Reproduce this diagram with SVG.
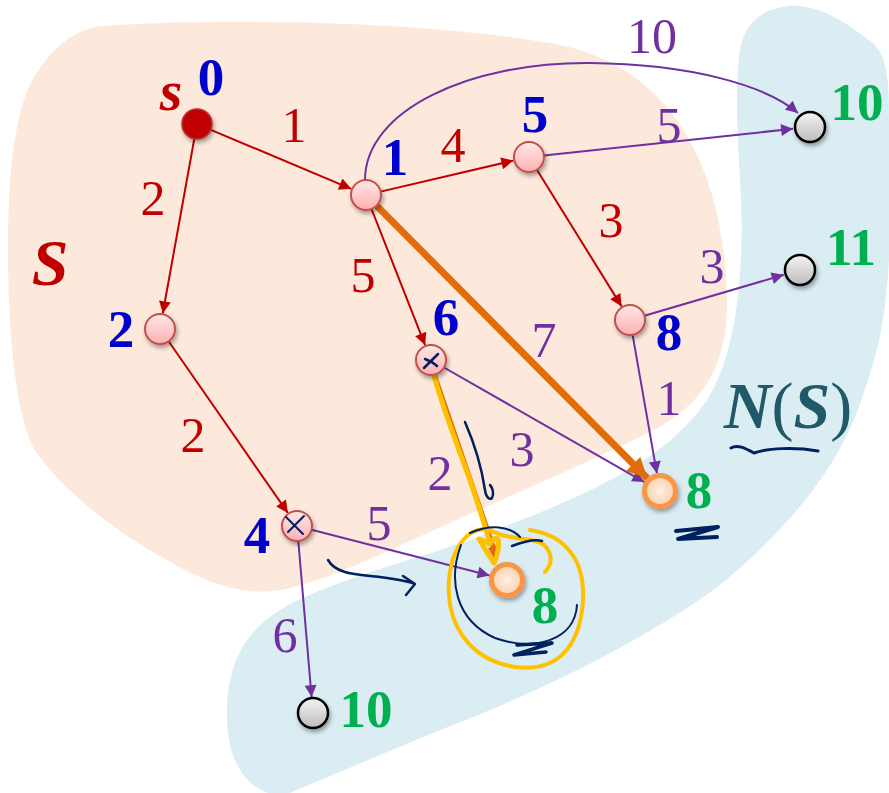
<svg xmlns="http://www.w3.org/2000/svg" width="889" height="793" viewBox="0 0 889 793">
<defs>
<style>
.t{font-family:"Liberation Serif","DejaVu Serif",serif;font-size:50px;text-anchor:middle}
.b{font-weight:bold;font-size:53px}
.blue{fill:#0000cc}
.green{fill:#00b050}
.red{fill:#c00000}
.pur{fill:#7030a0}
.er{stroke:#c00000;stroke-width:2;fill:none}
.ep{stroke:#7030a0;stroke-width:2;fill:none}
.hand{stroke:#002060;fill:none;stroke-linecap:round;stroke-linejoin:round}
.pink{fill:url(#gPink);stroke:#c0504d;stroke-width:2}
.gray{fill:url(#gGray);stroke:#000;stroke-width:2.5}
.org{fill:url(#gOrg);stroke:#f79646;stroke-width:5}
</style>
<linearGradient id="gPink" x1="0" y1="0" x2="0" y2="1"><stop offset="0" stop-color="#ffe8e8"/><stop offset="1" stop-color="#ffb0b0"/></linearGradient>
<linearGradient id="gGray" x1="0" y1="0" x2="0" y2="1"><stop offset="0" stop-color="#f4f4f4"/><stop offset="1" stop-color="#bcbcbc"/></linearGradient>
<radialGradient id="gOrg"><stop offset="0" stop-color="#fff0e4"/><stop offset="1" stop-color="#fbd0ac"/></radialGradient>
<filter id="sh" x="-50%" y="-50%" width="200%" height="200%"><feDropShadow dx="1.5" dy="3" stdDeviation="2" flood-color="#000" flood-opacity="0.35"/></filter>
<marker id="aR" viewBox="0 0 10 10" refX="10" refY="5" markerWidth="16" markerHeight="12" markerUnits="userSpaceOnUse" orient="auto"><path d="M0,0 L10,5 L0,10 z" fill="#c00000"/></marker>
<marker id="aP" viewBox="0 0 10 10" refX="10" refY="5" markerWidth="16" markerHeight="12" markerUnits="userSpaceOnUse" orient="auto"><path d="M0,0 L10,5 L0,10 z" fill="#7030a0"/></marker>
<marker id="aO" viewBox="0 0 10 10" refX="10" refY="5" markerWidth="24" markerHeight="20" markerUnits="userSpaceOnUse" orient="auto"><path d="M0,0 L10,5 L0,10 z" fill="#e36c09"/></marker>
</defs>

<g id="regions">
<path id="regionS" d="M100,26 C250,16 450,24 560,45 C680,70 725,180 727,300 C728,370 700,410 640,437 C560,475 500,500 450,523 C400,545 340,575 300,585 C270,595 230,598 167,560 C120,535 60,490 33,447 C15,410 8,330 8,250 C8,170 15,100 40,68 C58,42 78,30 100,26 Z" fill="#fde9db"/>
<path id="regionN" d="M790,6 C820,4 850,25 875,45 C889,60 889,90 889,120 L889,260 C885,330 875,360 863,395 C845,450 810,510 720,585 C640,645 520,700 440,730 C380,755 320,780 290,793 L268,793 C245,785 228,760 227,720 C226,670 240,635 280,610 C330,580 430,555 470,540 C560,505 660,470 707,400 C740,350 745,250 740,180 C737,130 735,80 740,50 C745,20 765,8 790,6 Z" fill="#daedf3"/>
</g>

<g id="connectors">
<line class="er" x1="210.8" y1="129.8" x2="351.2" y2="188.8" marker-end="url(#aR)"/>
<line class="er" x1="194.3" y1="138.8" x2="162.8" y2="313.3" marker-end="url(#aR)"/>
<line class="er" x1="380.6" y1="191.6" x2="513.4" y2="160.6" marker-end="url(#aR)"/>
<line class="er" x1="371.5" y1="209" x2="425.1" y2="345.1" marker-end="url(#aR)"/>
<line class="er" x1="536.9" y1="169.7" x2="621.6" y2="306.4" marker-end="url(#aR)"/>
<line class="er" x1="168.6" y1="341.3" x2="287.9" y2="512.9" marker-end="url(#aR)"/>
<path class="ep" d="M365,180 C365,110 470,62 590,63 C690,64 765,85 798,113" marker-end="url(#aP)"/>
<line class="ep" x1="543.9" y1="155.4" x2="793.1" y2="128.8" marker-end="url(#aP)"/>
<line class="ep" x1="644.4" y1="315.8" x2="783.7" y2="274.8" marker-end="url(#aP)"/>
<line class="ep" x1="632.6" y1="334.8" x2="656.9" y2="473.3" marker-end="url(#aP)"/>
<line class="ep" x1="444" y1="367.5" x2="644.4" y2="482.1" marker-end="url(#aP)"/>
<line class="ep" x1="311.5" y1="529.7" x2="489.6" y2="575.5" marker-end="url(#aP)"/>
<line class="ep" x1="298.3" y1="541" x2="311.6" y2="697.1" marker-end="url(#aP)"/>
<line x1="376.6" y1="205.6" x2="647.3" y2="478.2" stroke="#e36c09" stroke-width="7" marker-end="url(#aO)"/>
<line x1="434" y1="374" x2="496" y2="555" stroke="#e36c09" stroke-width="5"/>
<path d="M433,372 C440,400 455,440 470,480 C480,510 486,528 490,544 L479,539 C485,549 490,557 494,563 C497,556 500,548 498,539 C495,537 492,540 490,544" stroke="#ffc000" stroke-width="5" fill="none" stroke-linejoin="round" stroke-linecap="round"/>
<path d="M488,548 L494,558 L496,546 Z" fill="#e36c09"/>
</g>

<g id="annotations">
<path d="M545,572 C556,560 550,543 532,540 C515,538 500,536 490,530 C470,525 452,545 449,580 C446,625 470,660 515,667 C555,672 580,650 583,600 C585,560 565,535 530,530" stroke="#ffc000" stroke-width="4" fill="none" stroke-linecap="round"/>
<path class="hand" stroke-width="2" d="M470,533 C490,524 510,526 520,537"/>
<path class="hand" stroke-width="2" d="M461,545 C448,580 455,620 495,638 C535,652 575,640 577,605"/>
<path class="hand" stroke-width="2.5" d="M512,546 C525,541 535,539 542,541"/>
<path class="hand" stroke-width="3.5" d="M517,645 L552,643 L514,655 L546,652"/>
<path class="hand" stroke-width="4" d="M676,531 L718,527 L678,539 L717,537"/>
<path class="hand" stroke-width="3" d="M731,448 C737,444 745,448 754,453 C768,448 795,447 818,451"/>
<path class="hand" stroke-width="2.5" d="M328,560 C335,572 350,574 370,576 C390,578 405,580 415,584 M403,576 L415,584 L406,595"/>
<path class="hand" stroke-width="2.5" d="M465,422 C475,445 482,470 485,490 C486,498 490,500 492,498 C494,494 493,488 490,485"/>
</g>

<g id="node-s"><circle cx="197" cy="124" r="15" fill="#c00000" stroke="#b23030" stroke-width="1.5" filter="url(#sh)"/><text class="t b red" x="171" y="110" style="font-style:italic;font-size:58px">s</text><text class="t b blue" x="211" y="95">0</text></g>
<g id="node-1"><circle class="pink" cx="366" cy="195" r="15" filter="url(#sh)"/><text class="t b blue" x="395" y="175">1</text></g>
<g id="node-5"><circle class="pink" cx="529" cy="157" r="15" filter="url(#sh)"/><text class="t b blue" x="535" y="132">5</text></g>
<g id="node-2"><circle class="pink" cx="160" cy="329" r="15" filter="url(#sh)"/><text class="t b blue" x="121" y="347">2</text></g>
<g id="node-6"><circle class="pink" cx="431" cy="360" r="15" filter="url(#sh)"/><path class="hand" stroke-width="2.5" d="M424,368 L438,354 M425,359 C430,361 434,363 437,366"/><text class="t b blue" x="446" y="335">6</text></g>
<g id="node-4"><circle class="pink" cx="297" cy="526" r="15" filter="url(#sh)"/><path class="hand" stroke-width="2" d="M286,517 L303,534 M304,516 L288,532"/><text class="t b blue" x="257" y="553">4</text></g>
<g id="node-8in"><circle class="pink" cx="630" cy="320" r="15" filter="url(#sh)"/><text class="t b blue" x="669" y="350">8</text></g>
<g id="node-10top"><circle class="gray" cx="810" cy="127" r="15" filter="url(#sh)"/><text class="t b green" x="857" y="120">10</text></g>
<g id="node-11"><circle class="gray" cx="800" cy="270" r="15" filter="url(#sh)"/><text class="t b green" x="851" y="265">11</text></g>
<g id="node-10bot"><circle class="gray" cx="313" cy="713" r="15" filter="url(#sh)"/><text class="t b green" x="366" y="727">10</text></g>
<g id="node-8right"><circle class="org" cx="660" cy="491" r="15.5" filter="url(#sh)"/><text class="t b green" x="699" y="508">8</text></g>
<g id="node-8circ"><circle class="org" cx="507" cy="580" r="15.5" filter="url(#sh)"/><text class="t b green" x="545" y="623">8</text></g>

<g id="labels">
<text class="t red" x="294" y="142">1</text>
<text class="t red" x="153" y="215">2</text>
<text class="t red" x="363" y="292">5</text>
<text class="t red" x="453" y="162">4</text>
<text class="t red" x="611" y="237">3</text>
<text class="t red" x="193" y="452">2</text>
<text class="t pur" x="652" y="53">10</text>
<text class="t pur" x="669" y="142">5</text>
<text class="t pur" x="712" y="283">3</text>
<text class="t pur" x="544" y="357">7</text>
<text class="t pur" x="669" y="415">1</text>
<text class="t pur" x="522" y="466">3</text>
<text class="t pur" x="440" y="490">2</text>
<text class="t pur" x="379" y="540">5</text>
<text class="t pur" x="285" y="652">6</text>
<text class="t b red" x="50" y="285" style="font-style:italic;font-size:66px">S</text>
<text class="t" x="788" y="428" style="font-size:66px" fill="#215968"><tspan font-weight="bold" font-style="italic">N</tspan><tspan>(</tspan><tspan font-weight="bold" font-style="italic">S</tspan><tspan>)</tspan></text>
</g>
</svg>
